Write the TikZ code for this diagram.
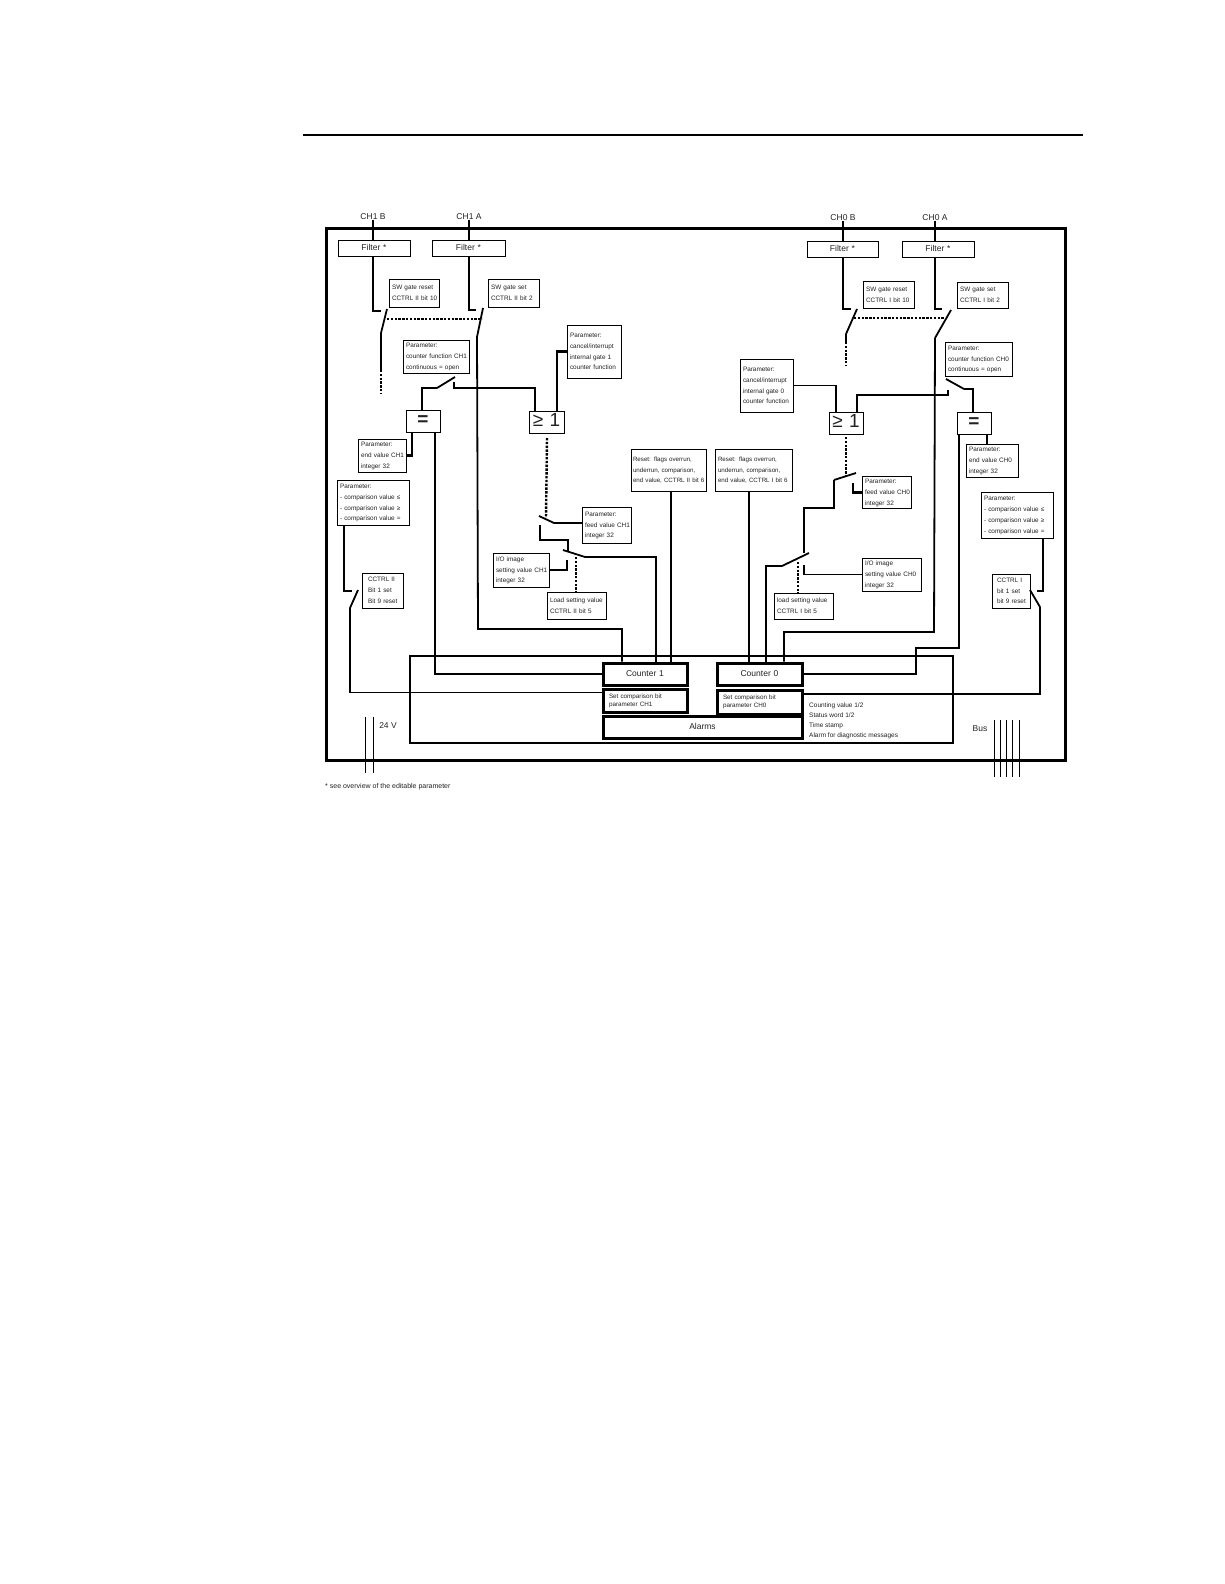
\documentclass[tikz,border=0pt]{standalone}
\usepackage{fontspec}
\setmainfont{Liberation Sans}
\definecolor{ink}{HTML}{222222}
\newcommand{\pbox}[8][3]{%
  \pgfmathsetmacro{\bw}{#5-#3}\pgfmathsetmacro{\bh}{#6-#4}\pgfmathsetmacro{\bt}{#5-#3-2*#1}%
  \node[#2,text width=\bt pt,minimum width=\bw pt,minimum height=\bh pt] (#7) at ({(#3+#5)/2},{(#4+#6)/2}) {\begin{tabular}{@{}l@{}}#8\end{tabular}}}
\tikzset{
  x=1pt,y=-1pt,
  frame/.style={draw=black,line width=3pt,fill=none},
  tbox/.style={draw=black,line width=0.9pt,fill=white,inner sep=0pt,align=left,text=ink,font=\fontsize{6.4}{10.8}\selectfont},
  rbox/.style={tbox,font=\fontsize{6.2}{10.8}\selectfont},
  fbox/.style={draw=black,line width=0.9pt,fill=white,inner sep=0pt,align=center,text=ink,font=\fontsize{8.5}{10}\selectfont},
  logic/.style={draw=black,line width=0.9pt,fill=white,inner sep=0pt,align=center,text=ink,font=\fontsize{19}{20}\selectfont},
  cbox/.style={draw=black,line width=3pt,fill=white,inner sep=0pt,align=center,text=ink,font=\fontsize{8.5}{10}\selectfont},
  sbox/.style={draw=black,line width=3pt,fill=white,inner sep=0pt,align=left,text=ink,font=\fontsize{6.3}{8.2}\selectfont},
  lab/.style={inner sep=0pt,text=ink,font=\fontsize{8.5}{10}\selectfont},
  note/.style={inner sep=0pt,text=ink,align=left,font=\fontsize{6.5}{10}\selectfont},
  wire/.style={draw=black,line width=1.8pt},
  fat/.style={draw=black,line width=2.8pt},
  blade/.style={draw=black,line width=1.8pt},
  dots/.style={draw=black,line width=2.4pt,dash pattern=on 2.4pt off 1.4pt},
  fine/.style={draw=black,line width=0.8pt},
}
\begin{document}
\begin{tikzpicture}
\useasboundingbox (0,0) rectangle (1224,1584);
\draw[draw=black,line width=2pt] (303,135) -- (1083,135);
\draw[frame] (326,228) rectangle (1065,760);
\draw[draw=black,line width=2.4pt] (410,656) rectangle (953,743);

% top labels
\node[lab] (t1b) at (373,216.5) {CH1 B};
\node[lab] (t1a) at (469,216.5) {CH1 A};
\node[lab] (t0b) at (843,217.5) {CH0 B};
\node[lab] (t0a) at (935,217.5) {CH0 A};

% filters
\pbox{fbox}{338}{240}{410}{256}{f1b}{Filter *};
\pbox{fbox}{432}{240}{505}{256}{f1a}{Filter *};
\pbox{fbox}{807}{241}{878}{257}{f0b}{Filter *};
\pbox{fbox}{902}{241}{974}{257}{f0a}{Filter *};

% gate boxes
\pbox{tbox}{389}{279}{439}{307}{g1r}{SW gate reset\\CCTRL II bit 10};
\pbox{tbox}{488}{279}{539}{307}{g1s}{SW gate set\\CCTRL II bit 2};
\pbox{tbox}{863}{281}{914}{308}{g0r}{SW gate reset\\CCTRL I bit 10};
\pbox{tbox}{957}{282}{1008}{308}{g0s}{SW gate set\\CCTRL I bit 2};

% parameter boxes
\pbox{tbox}{403}{340}{469}{373}{cf1}{Parameter:\\counter function CH1\\continuous = open};
\pbox{tbox}{945}{342}{1012}{376}{cf0}{Parameter:\\counter function CH0\\continuous = open};
\pbox{tbox}{567}{325}{621}{378}{ca1}{Parameter:\\cancel/interrupt\\internal gate 1\\counter function};
\pbox{tbox}{740}{359}{793}{412}{ca0}{Parameter:\\cancel/interrupt\\internal gate 0\\counter function};
\pbox{tbox}{358}{439}{406}{472}{ev1}{Parameter:\\end value CH1\\integer 32};
\pbox{tbox}{966}{444}{1018}{477}{ev0}{Parameter:\\end value CH0\\integer 32};
\pbox{tbox}{337}{480}{409}{525}{cp1}{Parameter:\\- comparison value ≤\\- comparison value ≥\\- comparison value =};
\pbox{tbox}{981}{492}{1053}{538}{cp0}{Parameter:\\- comparison value ≤\\- comparison value ≥\\- comparison value =};
\pbox[6]{tbox}{362}{573}{403}{608}{cc1}{CCTRL II\\Bit 1 set\\Bit 9 reset};
\pbox[5]{tbox}{992}{574}{1030}{608}{cc0}{CCTRL I\\bit 1 set\\bit 9 reset};
\pbox{tbox}{582}{507}{631}{543}{fv1}{Parameter:\\feed value CH1\\integer 32};
\pbox{tbox}{862}{477}{911}{508}{fv0}{Parameter:\\feed value CH0\\integer 32};
\pbox{tbox}{493}{553}{549}{587}{io1}{I/O image\\setting value CH1\\integer 32};
\pbox{tbox}{862}{558}{921}{591}{io0}{I/O image\\setting value CH0\\integer 32};
\pbox{tbox}{547}{592}{606}{619}{ls1}{Load setting value\\CCTRL II bit 5};
\pbox{tbox}{774}{593}{833}{619}{ls0}{load setting value\\CCTRL I bit 5};
\pbox[2]{rbox}{631}{449}{706}{491}{rs1}{Reset: flags overrun,\\underrun, comparison,\\end value, CCTRL II bit 6};
\pbox[3]{rbox}{715}{449}{792}{491}{rs0}{Reset: flags overrun,\\underrun, comparison,\\end value, CCTRL I bit 6};

% logic
\pbox{logic}{529}{411}{564}{433}{or1}{≥ 1};
\pbox{logic}{829}{412}{863}{434}{or0}{≥ 1};
\pbox{logic}{406}{410}{440}{432}{eq1}{\textbf{=}};
\pbox{logic}{957}{412}{991}{434}{eq0}{\textbf{=}};

% core
\pbox{cbox}{603}{663}{687}{685}{c1}{Counter 1};
\pbox{cbox}{717}{663}{802}{685}{c0}{Counter 0};
\pbox[6]{sbox}{603}{689}{687}{712}{s1}{Set comparison bit\\parameter CH1};
\pbox[6]{sbox}{717}{690}{802}{714}{s0}{Set comparison bit\\parameter CH0};
\pbox{cbox}{603}{716}{802}{738}{al}{Alarms};
\node[note,anchor=north west] (nt) at (809,703) {Counting value 1/2\\Status word 1/2\\Time stamp\\Alarm for diagnostic messages};

% power and bus
\node[lab] (v24) at (388,726) {24 V};
\node[lab] (bus) at (980,729) {Bus};
\coordinate (p1) at (365,717); \coordinate (p1e) at (365,773);
\coordinate (p2) at (373,717); \coordinate (p2e) at (373,773);
\draw[fine] (p1) -- (p1e); \draw[fine] (p2) -- (p2e);
\foreach \i/\xx in {1/994,2/1000.3,3/1006.7,4/1012.7,5/1019}{
  \coordinate (b\i) at (\xx,720); \coordinate (be\i) at (\xx,777);
  \draw[fine] (b\i) -- (be\i);
}
\node[inner sep=0pt,anchor=west,text=ink,font=\fontsize{7}{8}\selectfont] (fn) at (325,787) {* see overview of the editable parameter};

% switch points CH1
\coordinate (a1) at (381,311); \coordinate (a2) at (387,309); \coordinate (a3) at (381,333); \coordinate (a4) at (381,370); \coordinate (a5) at (381,393);
\coordinate (b1x) at (476,310); \coordinate (b2x) at (483,308); \coordinate (b3x) at (477,337); \coordinate (b4x) at (478,629);
\coordinate (l1) at (387,319); \coordinate (l2) at (482,319);
\coordinate (k1) at (455,377); \coordinate (k2) at (437,388); \coordinate (k3) at (454,382); \coordinate (k4) at (454,388);
% input CH1 B
\draw[wire] (t1b.south) -- (t1b.south |- f1b.north);
\draw[wire] (t1b.south |- f1b.south) |- (a1);
\draw[blade] (a2) -- (a3);
\draw[wire] (a3) -- (a4);
\draw[dots] (a4) -- (a5);
% input CH1 A
\draw[wire] (t1a.south) -- (t1a.south |- f1a.north);
\draw[wire] (t1a.south |- f1a.south) |- (b1x);
\draw[blade] (b2x) -- (b3x);
\draw[wire] (b3x) -- (b4x) -| ([xshift=-23pt]c1.north);
\draw[dots] (l1) -- (l2);
% CH1 counter-function switch
\draw[blade] (k1) -- (k2);
\draw[wire] (k2) -| ([xshift=-1pt]eq1.north);
\draw[wire] (k3) -- (k4) -| ([xshift=-11.5pt]or1.north);
\draw[fat] (ca1.west) -| ([xshift=10.5pt]or1.north);
% equal CH1
\draw[wire] ([xshift=12pt]eq1.south) |- (c1.west);
\draw[fat] ([xshift=-11pt]eq1.south) |- (ev1.east);
% comparison CH1
\coordinate (m1) at (352,591); \coordinate (m2) at (358,590); \coordinate (m3) at (350,608);
\draw[wire] ([xshift=-29pt]cp1.south) |- (m1);
\draw[blade] (m2) -- (m3);
\draw[wire] (m3) |- ([yshift=8pt]s1.west);
% load path CH1
\coordinate (d1) at (547,438); \coordinate (d2) at (546,518);
\coordinate (q1) at (539,516); \coordinate (q2) at (554,523);
\coordinate (h1) at (540,525); \coordinate (h2) at (568,540); \coordinate (h3) at (568,552);
\coordinate (r1) at (563,550); \coordinate (r2) at (585,557);
\coordinate (u1) at (567,560); \coordinate (v1) at (576,557);
\draw[dots] (d1) -- (d2);
\draw[blade] (q1) -- (q2);
\draw[wire] (q2) -- (q2 -| fv1.west);
\draw[fat] (h1) |- (h2) -- (h3);
\draw[blade] (r1) -- (r2);
\draw[wire] (r2) -| ([xshift=11pt]c1.north);
\draw[wire] (io1.east) -| (u1);
\draw[dots,line width=1.9pt] (v1) -- (v1 |- ls1.north);
% reset lines
\draw[wire] ([xshift=2.5pt]rs1.south) -- ([xshift=26pt]c1.north);
\draw[wire] ([xshift=-4.5pt]rs0.south) -- ([xshift=-10.5pt]c0.north);

% switch points CH0
\coordinate (e1) at (851,309); \coordinate (e2) at (857,309); \coordinate (e3) at (846,334); \coordinate (e4) at (846,342); \coordinate (e5) at (846,366);
\coordinate (g1x) at (942,309); \coordinate (g2x) at (951,310); \coordinate (g3x) at (935,338); \coordinate (g4x) at (934,632);
\coordinate (l3) at (854,318); \coordinate (l4) at (945,318);
\coordinate (j1) at (946,379); \coordinate (j2) at (964,389); \coordinate (j3) at (948,390); \coordinate (j4) at (948,395);
% input CH0 B
\draw[wire] (t0b.south) -- (t0b.south |- f0b.north);
\draw[wire] (t0b.south |- f0b.south) |- (e1);
\draw[blade] (e2) -- (e3);
\draw[wire] (e3) -- (e4);
\draw[dots] (e4) -- (e5);
% input CH0 A
\draw[wire] (t0a.south) -- (t0a.south |- f0a.north);
\draw[wire] (t0a.south |- f0a.south) |- (g1x);
\draw[blade] (g2x) -- (g3x);
\draw[wire] (g3x) -- (g4x) -| ([xshift=24.5pt]c0.north);
\draw[dots] (l3) -- (l4);
% CH0 counter-function switch
\draw[blade] (j1) -- (j2);
\draw[wire] (j2) -| ([xshift=-1pt]eq0.north);
\draw[wire] (j3) -- (j4) -| ([xshift=11pt]or0.north);
\draw[wire] (ca0.east) -| ([xshift=-10pt]or0.north);
% equal CH0
\coordinate (w1) at (916,648);
\draw[wire] ([xshift=-15pt]eq0.south) |- (w1) |- (c0.east);
\draw[fat] ([xshift=13pt]eq0.south) -- ([xshift=13pt]eq0.south |- ev0.north);
% comparison CH0
\coordinate (n1) at (1037,591); \coordinate (n2) at (1030,590); \coordinate (n3) at (1040,607);
\draw[wire] ([xshift=26pt]cp0.south) |- (n1);
\draw[blade] (n2) -- (n3);
\draw[wire] (n3) |- ([yshift=8pt]s0.east);
% load path CH0
\coordinate (y1) at (846,437); \coordinate (y2) at (846,476);
\coordinate (z1) at (834,480); \coordinate (z2) at (856,473);
\coordinate (z3) at (834,508); \coordinate (z4) at (804,508); \coordinate (z5) at (804,553);
\coordinate (o1) at (809,553); \coordinate (o2) at (782,566); \coordinate (o3) at (766,566);
\coordinate (cn) at (853,483); \coordinate (u0) at (804,565); \coordinate (v0) at (798,562);
\draw[dots] (y1) -- (y2);
\draw[blade] (z2) -- (z1);
\draw[wire] (z1) -- (z3) -- (z4) -- (z5);
\draw[blade] (o1) -- (o2);
\draw[wire] (o2) -- (o3) -- (o3 |- c0.north);
\draw[fat] (cn) |- (fv0.west);
\draw[wire] (io0.west) -| (u0);
\draw[dots,line width=1.9pt] (v0) -- (v0 |- ls0.north);
\end{tikzpicture}
\end{document}
